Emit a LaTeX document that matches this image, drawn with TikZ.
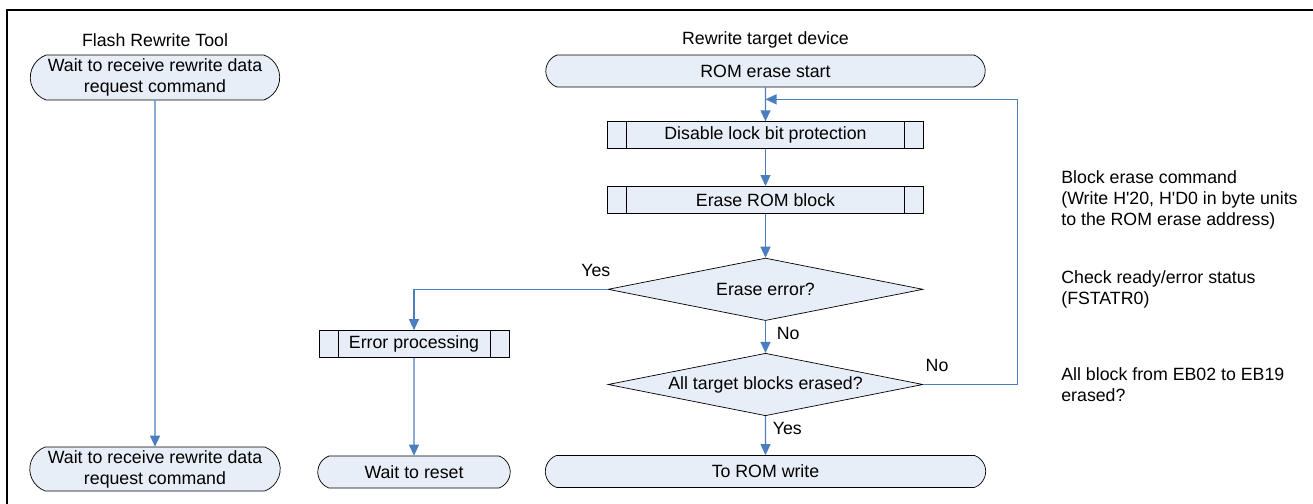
\documentclass[tikz,border=0pt]{standalone}
\usepackage{fontspec}
\setmainfont{Liberation Sans}
\usepackage{tikz}
\usetikzlibrary{arrows.meta, positioning, shapes.geometric, shapes.misc}
\definecolor{boxfill}{RGB}{232,238,247}
\definecolor{flowblue}{RGB}{74,126,190}
\tikzset{
    terminal/.style={draw, rounded rectangle, rounded rectangle arc length=140, fill=boxfill,
        minimum width=#1, minimum height=0.64cm, inner sep=1pt, align=center},
    terminal/.default=8.86cm
}

\begin{document}
\begin{tikzpicture}[
    x=0.02cm, y=-0.02cm,
    font=\fontsize{10.1}{12}\selectfont,
    subproc/.style={draw, fill=boxfill, minimum width=6.32cm, minimum height=0.54cm, inner sep=1pt,
        path picture={
            \draw ([xshift=0.38cm]path picture bounding box.north west) -- ([xshift=0.38cm]path picture bounding box.south west);
            \draw ([xshift=-0.38cm]path picture bounding box.north east) -- ([xshift=-0.38cm]path picture bounding box.south east);
        }},
    decision/.style={draw, diamond, fill=boxfill, shape aspect=5, minimum width=6.3cm, minimum height=1.25cm, inner sep=0pt},
    flow/.style={draw=flowblue, line width=0.7pt, -{Triangle[length=0.22cm, width=0.2cm]}},
    lbl/.style={inner sep=1pt},
    note/.style={align=left, anchor=west, inner sep=0pt},
    frame/.style={line width=1.2pt},
    node distance=0.7cm
]
\useasboundingbox (0,0) rectangle (1313,504);

% Outer frame (cut at right and bottom)
\draw[frame] (7,504) -- (7,10) -- (1313,10);

% Flash Rewrite Tool
\node (tooltitle) at (155,40) {Flash Rewrite Tool};
\node[terminal=5.06cm, minimum height=0.9cm] (toolwait) at (155,77.5) {Wait to receive rewrite data\\request command};
\node[terminal=5.08cm, minimum height=0.88cm] (toolwait2) at (155,469) {Wait to receive rewrite data\\request command};

% Rewrite target device
\node (devtitle) at (765.5,40) {Rewrite target device};
\node[terminal] (start) at (765.5,71) {ROM erase start};
\node[subproc, below=0.68cm of start] (unlock) {Disable lock bit protection};
\node[subproc, below=0.74cm of unlock] (erase) {Erase ROM block};
\node[decision, below=0.88cm of erase] (err) {Erase error?};
\node[decision, below=0.64cm of err] (done) {All target blocks erased?};
\node[terminal=8.88cm, below=0.78cm of done] (rom) {To ROM write};

% Error branch
\node[subproc, minimum width=3.8cm] (errproc) at (414,344) {Error processing};
\node[terminal=3.92cm] (reset) at (414,472) {Wait to reset};

% Notes
\coordinate (notecol) at (1061,0);
\node[note] (noteerase) at (notecol |- erase) {Block erase command\\(Write H\textquotesingle 20, H\textquotesingle D0 in byte units\\to the ROM erase address)};
\node[note] (noteerr) at (notecol |- err) {Check ready/error status\\(FSTATR0)};
\node[note] (notedone) at (notecol |- done) {All block from EB02 to EB19\\erased?};

% Loop back point
\coordinate (merge) at ([yshift=-0.24cm]start.south);
\coordinate (loopup) at ([xshift=1.88cm]done.east |- merge);

% Arrows
\draw[flow] (toolwait) -- (toolwait2);
\draw[flow] (start) -- (unlock);
\draw[flow] (unlock) -- (erase);
\draw[flow] (erase) -- (err);
\draw[flow] (err) -- node[lbl, pos=0.4, right=0.18cm] {No} (done);
\draw[flow] (done) -- node[lbl, pos=0.32, right=0.1cm] {Yes} (rom);
\draw[flow] (err.west) -| node[lbl, pos=0, anchor=south east, xshift=0.1cm, yshift=0.2cm] {Yes} (errproc);
\draw[flow] (errproc) -- (reset);
\draw[flow] (done.east) -| node[lbl, pos=0, anchor=south west, yshift=0.2cm] {No} (loopup) -- (merge);

\end{tikzpicture}
\end{document}
